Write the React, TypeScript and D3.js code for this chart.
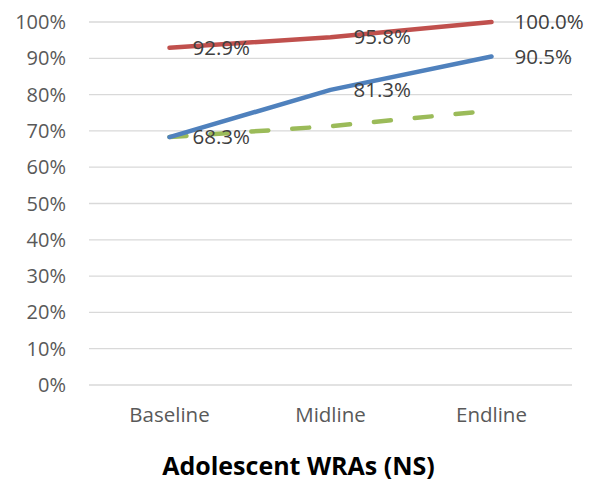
import React from "react";
import * as d3 from "d3";

const categories = ["Baseline", "Midline", "Endline"];
const redValues = [92.9, 95.8, 100.0];
const blueValues = [68.3, 81.3, 90.5];
const greenValues = [68.3, 71.3, 75.6];
const yTicks = [0, 10, 20, 30, 40, 50, 60, 70, 80, 90, 100];
const title = "Adolescent WRAs (NS)";

const W = 597;
const H = 482;
const left = 89;
const right = 572;
const top = 22;
const bottom = 385;
const FONT = "'Open Sans', 'Noto Sans', sans-serif";

export default function App() {
  const x = d3.scaleBand<string>().domain(categories).range([left, right]);
  const cx = (c: string) => (x(c) as number) + x.bandwidth() / 2;
  const y = d3.scaleLinear().domain([0, 100]).range([bottom, top]);
  const line = d3
    .line<number>()
    .x((_, i) => cx(categories[i]))
    .y((d) => y(d));

  const series = [
    { values: greenValues, color: "#9BBB59", dash: "17 24", labels: false },
    { values: blueValues, color: "#4F81BD", dash: undefined, labels: true },
    { values: redValues, color: "#C0504D", dash: undefined, labels: true },
  ];

  return (
    <svg
      width={W}
      height={H}
      style={{ position: "absolute", left: 0, top: 0, background: "#fff" }}
    >
      {yTicks.map((t) => (
        <g key={t}>
          <line x1={left} x2={right} y1={y(t)} y2={y(t)} stroke="#D9D9D9" strokeWidth={1.3} />
          <text
            x={66}
            y={y(t)}
            dy="0.35em"
            textAnchor="end"
            fontFamily={FONT}
            fontSize={20}
            fill="#595959"
          >
            {t}%
          </text>
        </g>
      ))}
      {categories.map((c) => (
        <text
          key={c}
          x={cx(c)}
          y={415}
          dy="0.35em"
          textAnchor="middle"
          fontFamily={FONT}
          fontSize={20.5}
          fill="#595959"
        >
          {c}
        </text>
      ))}
      {series.map((s, si) => (
        <path
          key={si}
          d={line(s.values) || ""}
          fill="none"
          stroke={s.color}
          strokeWidth={4.5}
          strokeLinecap="round"
          strokeLinejoin="round"
          strokeDasharray={s.dash}
        />
      ))}
      {series
        .filter((s) => s.labels)
        .map((s, si) =>
          s.values.map((v, i) => (
            <text
              key={si + "-" + i}
              x={cx(categories[i]) + 23}
              y={y(v)}
              dy="0.35em"
              fontFamily={FONT}
              fontSize={20.5}
              fill="#404040"
            >
              {v.toFixed(1)}%
            </text>
          ))
        )}
      <text
        x={298.5}
        y={466}
        dy="0.35em"
        textAnchor="middle"
        fontFamily={FONT}
        fontSize={25}
        fontWeight="bold"
        fill="#000"
      >
        {title}
      </text>
    </svg>
  );
}
